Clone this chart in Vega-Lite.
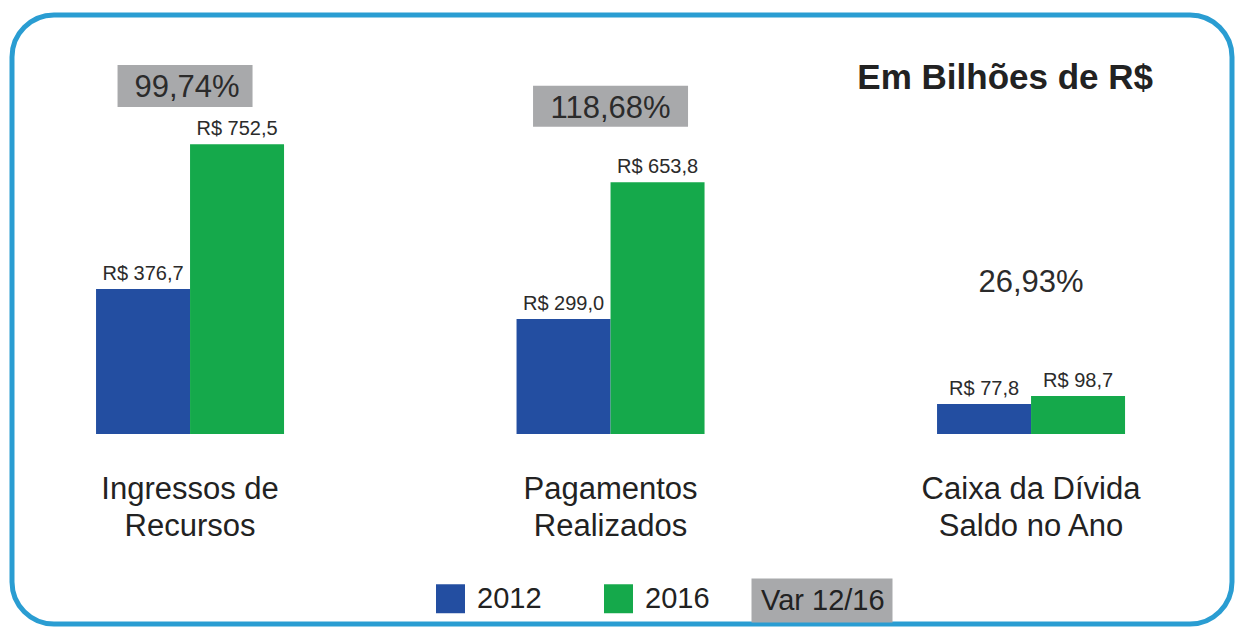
{
  "$schema": "https://vega.github.io/schema/vega-lite/v6.json",
  "autosize": {"type": "none"},
  "width": 1220,
  "height": 609,
  "padding": {"left": 12, "top": 15, "right": 9, "bottom": 6},
  "background": "white",
  "config": {
    "font": "Liberation Sans",
    "view": {"stroke": "#2a9dd2", "strokeWidth": 5, "cornerRadius": 42, "fill": "white"}
  },
  "title": {
    "text": "Em Bilhões de R$",
    "anchor": "end",
    "frame": "group",
    "orient": "top",
    "offset": 0,
    "baseline": "alphabetic",
    "dx": -79,
    "dy": 109,
    "fontSize": 35,
    "fontWeight": "bold",
    "font": "Liberation Sans",
    "color": "#222222"
  },
  "datasets": {
    "bars": [
      {"cat": "Ingressos de Recursos", "year": "2012", "value": 376.7, "label": "R$ 376,7"},
      {"cat": "Ingressos de Recursos", "year": "2016", "value": 752.5, "label": "R$ 752,5"},
      {"cat": "Pagamentos Realizados", "year": "2012", "value": 299.0, "label": "R$ 299,0"},
      {"cat": "Pagamentos Realizados", "year": "2016", "value": 653.8, "label": "R$ 653,8"},
      {"cat": "Caixa da Dívida Saldo no Ano", "year": "2012", "value": 77.8, "label": "R$ 77,8"},
      {"cat": "Caixa da Dívida Saldo no Ano", "year": "2016", "value": 98.7, "label": "R$ 98,7"}
    ],
    "var": [
      {"cat": "Ingressos de Recursos", "var": "99,74%"},
      {"cat": "Pagamentos Realizados", "var": "118,68%"},
      {"cat": "Caixa da Dívida Saldo no Ano", "var": "26,93%"}
    ]
  },
  "encoding": {
    "x": {
      "field": "cat",
      "type": "nominal",
      "sort": null,
      "scale": {
        "domain": ["Ingressos de Recursos", "Pagamentos Realizados", "Caixa da Dívida Saldo no Ano"],
        "paddingInner": 0.5529,
        "paddingOuter": 0.2271,
        "align": 0.44
      },
      "axis": {
        "title": null,
        "orient": "bottom",
        "offset": -190,
        "domain": false,
        "ticks": false,
        "labelAngle": 0,
        "labelFontSize": 31,
        "labelLineHeight": 37,
        "labelColor": "#222222",
        "labelBaseline": "top",
        "labelPadding": 40,
        "labelLimit": 400,
        "labelExpr": "datum.label == 'Ingressos de Recursos' ? ['Ingressos de', 'Recursos'] : datum.label == 'Pagamentos Realizados' ? ['Pagamentos', 'Realizados'] : ['Caixa da Dívida', 'Saldo no Ano']"
      }
    }
  },
  "layer": [
    {
      "data": {"name": "bars"},
      "mark": {"type": "bar"},
      "encoding": {
        "xOffset": {"field": "year", "type": "nominal", "scale": {"paddingInner": 0, "paddingOuter": 0}},
        "y": {"field": "value", "type": "quantitative", "scale": {"domain": [-493.5, 1088.3], "nice": false, "zero": false}, "axis": null},
        "color": {
          "field": "year",
          "type": "nominal",
          "scale": {"domain": ["2012", "2016"], "range": ["#234ea1", "#15a94b"]},
          "legend": {
            "orient": "none",
            "direction": "horizontal",
            "legendX": 424,
            "legendY": 569,
            "title": null,
            "padding": 0,
            "symbolType": "square",
            "symbolSize": 840,
            "symbolStrokeWidth": 0,
            "symbolOpacity": 1,
            "labelFontSize": 29,
            "labelColor": "#222222",
            "labelOffset": 12,
            "columnPadding": 62
          }
        }
      }
    },
    {
      "data": {"name": "bars"},
      "mark": {"type": "text", "baseline": "alphabetic", "dy": -9, "fontSize": 20, "color": "#2b2b2b"},
      "encoding": {
        "xOffset": {"field": "year", "type": "nominal", "scale": {"paddingInner": 0, "paddingOuter": 0}},
        "y": {"field": "value", "type": "quantitative"},
        "text": {"field": "label"}
      }
    },
    {
      "data": {"name": "var"},
      "transform": [{"filter": "datum.cat == 'Ingressos de Recursos'"}],
      "mark": {"type": "point", "filled": true, "opacity": 1, "size": 4, "shape": "M-72.5,-21H62.5V21H-72.5Z", "strokeWidth": 0},
      "encoding": {
        "y": {"datum": 904},
        "fill": {
          "datum": "Var 12/16",
          "type": "nominal",
          "scale": {"range": ["#a8a9ab"]},
          "legend": {
            "orient": "none",
            "legendX": 725,
            "legendY": 571,
            "title": null,
            "padding": 0,
            "symbolType": "M0,-22H141V22H0Z",
            "symbolSize": 4,
            "symbolOpacity": 1,
            "symbolStrokeWidth": 0,
            "labelFontSize": 29,
            "labelColor": "#222222",
            "labelOffset": -5
          }
        }
      }
    },
    {
      "data": {"name": "var"},
      "transform": [{"filter": "datum.cat == 'Pagamentos Realizados'"}],
      "mark": {"type": "point", "filled": true, "opacity": 1, "size": 4, "shape": "M-77.5,-20.5H77.5V20.5H-77.5Z", "strokeWidth": 0},
      "encoding": {
        "y": {"datum": 851},
        "fill": {
          "datum": "Var 12/16",
          "type": "nominal",
          "scale": {"range": ["#a8a9ab"]},
          "legend": {
            "orient": "none",
            "legendX": 725,
            "legendY": 571,
            "title": null,
            "padding": 0,
            "symbolType": "M0,-22H141V22H0Z",
            "symbolSize": 4,
            "symbolOpacity": 1,
            "symbolStrokeWidth": 0,
            "labelFontSize": 29,
            "labelColor": "#222222",
            "labelOffset": -5
          }
        }
      }
    },
    {
      "data": {"name": "var"},
      "transform": [{"filter": "datum.cat == 'Ingressos de Recursos'"}],
      "mark": {"type": "text", "baseline": "alphabetic", "fontSize": 31, "color": "#2b2b2b", "dx": -3},
      "encoding": {"y": {"datum": 875}, "text": {"field": "var"}}
    },
    {
      "data": {"name": "var"},
      "transform": [{"filter": "datum.cat == 'Pagamentos Realizados'"}],
      "mark": {"type": "text", "baseline": "alphabetic", "fontSize": 31, "color": "#2b2b2b"},
      "encoding": {"y": {"datum": 821}, "text": {"field": "var"}}
    },
    {
      "data": {"name": "var"},
      "transform": [{"filter": "datum.cat == 'Caixa da Dívida Saldo no Ano'"}],
      "mark": {"type": "text", "baseline": "alphabetic", "fontSize": 31, "color": "#2b2b2b"},
      "encoding": {"y": {"datum": 369}, "text": {"field": "var"}}
    }
  ]
}
